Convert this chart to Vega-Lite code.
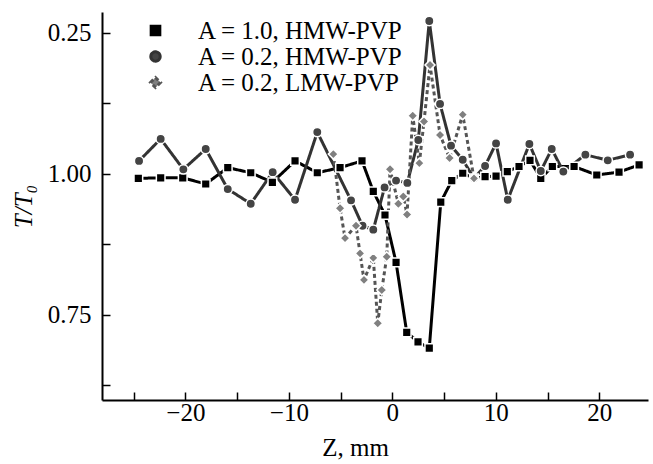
{
  "$schema": "https://vega.github.io/schema/vega-lite/v6.json",
  "width": 546,
  "height": 388,
  "autosize": {"type": "none"},
  "padding": {"left": 102, "top": 12, "right": 5, "bottom": 64},
  "background": "white",
  "config": {"view": {"stroke": null}, "font": "Liberation Serif"},
  "data": {
    "values": [
      {"series": "A = 1.0, HMW-PVP", "z": -24.54, "v": 0.992},
      {"series": "A = 1.0, HMW-PVP", "z": -22.38, "v": 0.993},
      {"series": "A = 1.0, HMW-PVP", "z": -20.25, "v": 0.993},
      {"series": "A = 1.0, HMW-PVP", "z": -18.03, "v": 0.982},
      {"series": "A = 1.0, HMW-PVP", "z": -15.9, "v": 1.011},
      {"series": "A = 1.0, HMW-PVP", "z": -13.68, "v": 1.002},
      {"series": "A = 1.0, HMW-PVP", "z": -11.59, "v": 0.985},
      {"series": "A = 1.0, HMW-PVP", "z": -9.4, "v": 1.023},
      {"series": "A = 1.0, HMW-PVP", "z": -7.25, "v": 1.002},
      {"series": "A = 1.0, HMW-PVP", "z": -5.05, "v": 1.011},
      {"series": "A = 1.0, HMW-PVP", "z": -2.93, "v": 1.023},
      {"series": "A = 1.0, HMW-PVP", "z": -1.84, "v": 0.969},
      {"series": "A = 1.0, HMW-PVP", "z": -0.71, "v": 0.927},
      {"series": "A = 1.0, HMW-PVP", "z": 0.36, "v": 0.843},
      {"series": "A = 1.0, HMW-PVP", "z": 1.39, "v": 0.719},
      {"series": "A = 1.0, HMW-PVP", "z": 2.48, "v": 0.702},
      {"series": "A = 1.0, HMW-PVP", "z": 3.57, "v": 0.691},
      {"series": "A = 1.0, HMW-PVP", "z": 4.68, "v": 0.950},
      {"series": "A = 1.0, HMW-PVP", "z": 5.74, "v": 0.988},
      {"series": "A = 1.0, HMW-PVP", "z": 6.8, "v": 1.001},
      {"series": "A = 1.0, HMW-PVP", "z": 7.89, "v": 0.992},
      {"series": "A = 1.0, HMW-PVP", "z": 8.96, "v": 0.995},
      {"series": "A = 1.0, HMW-PVP", "z": 10.02, "v": 0.996},
      {"series": "A = 1.0, HMW-PVP", "z": 11.11, "v": 1.004},
      {"series": "A = 1.0, HMW-PVP", "z": 12.24, "v": 1.013},
      {"series": "A = 1.0, HMW-PVP", "z": 13.3, "v": 1.024},
      {"series": "A = 1.0, HMW-PVP", "z": 14.34, "v": 0.992},
      {"series": "A = 1.0, HMW-PVP", "z": 15.46, "v": 1.013},
      {"series": "A = 1.0, HMW-PVP", "z": 17.56, "v": 1.013},
      {"series": "A = 1.0, HMW-PVP", "z": 19.75, "v": 0.998},
      {"series": "A = 1.0, HMW-PVP", "z": 21.9, "v": 1.003},
      {"series": "A = 1.0, HMW-PVP", "z": 23.84, "v": 1.016},
      {"series": "A = 0.2, HMW-PVP", "z": -24.47, "v": 1.023},
      {"series": "A = 0.2, HMW-PVP", "z": -22.38, "v": 1.062},
      {"series": "A = 0.2, HMW-PVP", "z": -20.19, "v": 1.008},
      {"series": "A = 0.2, HMW-PVP", "z": -18.03, "v": 1.044},
      {"series": "A = 0.2, HMW-PVP", "z": -15.9, "v": 0.973},
      {"series": "A = 0.2, HMW-PVP", "z": -13.68, "v": 0.947},
      {"series": "A = 0.2, HMW-PVP", "z": -11.56, "v": 1.003},
      {"series": "A = 0.2, HMW-PVP", "z": -9.4, "v": 0.954},
      {"series": "A = 0.2, HMW-PVP", "z": -7.25, "v": 1.074},
      {"series": "A = 0.2, HMW-PVP", "z": -3.99, "v": 0.953},
      {"series": "A = 0.2, HMW-PVP", "z": -2.88, "v": 0.908},
      {"series": "A = 0.2, HMW-PVP", "z": -1.84, "v": 0.901},
      {"series": "A = 0.2, HMW-PVP", "z": -0.75, "v": 0.976},
      {"series": "A = 0.2, HMW-PVP", "z": 0.36, "v": 0.988},
      {"series": "A = 0.2, HMW-PVP", "z": 1.45, "v": 0.984},
      {"series": "A = 0.2, HMW-PVP", "z": 2.51, "v": 1.060},
      {"series": "A = 0.2, HMW-PVP", "z": 3.57, "v": 1.271},
      {"series": "A = 0.2, HMW-PVP", "z": 4.61, "v": 1.124},
      {"series": "A = 0.2, HMW-PVP", "z": 5.67, "v": 1.050},
      {"series": "A = 0.2, HMW-PVP", "z": 6.8, "v": 1.025},
      {"series": "A = 0.2, HMW-PVP", "z": 7.89, "v": 0.992},
      {"series": "A = 0.2, HMW-PVP", "z": 8.96, "v": 1.014},
      {"series": "A = 0.2, HMW-PVP", "z": 10.02, "v": 1.054},
      {"series": "A = 0.2, HMW-PVP", "z": 11.15, "v": 0.954},
      {"series": "A = 0.2, HMW-PVP", "z": 13.24, "v": 1.053},
      {"series": "A = 0.2, HMW-PVP", "z": 14.34, "v": 1.005},
      {"series": "A = 0.2, HMW-PVP", "z": 15.4, "v": 1.044},
      {"series": "A = 0.2, HMW-PVP", "z": 16.52, "v": 1.004},
      {"series": "A = 0.2, HMW-PVP", "z": 18.65, "v": 1.034},
      {"series": "A = 0.2, HMW-PVP", "z": 20.81, "v": 1.024},
      {"series": "A = 0.2, HMW-PVP", "z": 22.97, "v": 1.034},
      {"series": "A = 0.2, LMW-PVP", "z": -5.7, "v": 1.035},
      {"series": "A = 0.2, LMW-PVP", "z": -5.05, "v": 0.939},
      {"series": "A = 0.2, LMW-PVP", "z": -4.57, "v": 0.886},
      {"series": "A = 0.2, LMW-PVP", "z": -3.51, "v": 0.908},
      {"series": "A = 0.2, LMW-PVP", "z": -3.12, "v": 0.859},
      {"series": "A = 0.2, LMW-PVP", "z": -2.74, "v": 0.812},
      {"series": "A = 0.2, LMW-PVP", "z": -1.84, "v": 0.851},
      {"series": "A = 0.2, LMW-PVP", "z": -1.41, "v": 0.735},
      {"series": "A = 0.2, LMW-PVP", "z": -1.02, "v": 0.794},
      {"series": "A = 0.2, LMW-PVP", "z": -0.54, "v": 0.853},
      {"series": "A = 0.2, LMW-PVP", "z": -0.22, "v": 1.008},
      {"series": "A = 0.2, LMW-PVP", "z": 0.58, "v": 0.947},
      {"series": "A = 0.2, LMW-PVP", "z": 1.06, "v": 0.960},
      {"series": "A = 0.2, LMW-PVP", "z": 1.42, "v": 0.928},
      {"series": "A = 0.2, LMW-PVP", "z": 1.97, "v": 1.103},
      {"series": "A = 0.2, LMW-PVP", "z": 2.61, "v": 1.019},
      {"series": "A = 0.2, LMW-PVP", "z": 3.06, "v": 1.093},
      {"series": "A = 0.2, LMW-PVP", "z": 3.64, "v": 1.193},
      {"series": "A = 0.2, LMW-PVP", "z": 4.61, "v": 1.069},
      {"series": "A = 0.2, LMW-PVP", "z": 5.53, "v": 1.028},
      {"series": "A = 0.2, LMW-PVP", "z": 6.8, "v": 1.105},
      {"series": "A = 0.2, LMW-PVP", "z": 7.89, "v": 0.992}
    ]
  },
  "encoding": {
    "x": {
      "field": "z", "type": "quantitative",
      "scale": {"domain": [-28.05, 24.7], "nice": false, "zero": false},
      "axis": {
        "values": [-25, -20, -15, -10, -5, 0, 5, 10, 15, 20],
        "labelExpr": "datum.value % 10 == 0 ? (datum.value < 0 ? '−' + abs(datum.value) : '' + datum.value) : ''",
        "grid": false, "domainColor": "black", "domainWidth": 2,
        "tickColor": "black", "tickWidth": 1.5, "tickSize": -8,
        "labelPadding": 8, "labelFontSize": 25, "labelFont": "Liberation Serif", "labelColor": "black",
        "labelFlush": false, "labelOverlap": false,
        "title": "Z, mm", "titleFont": "Liberation Serif", "titleFontSize": 25, "titleFontWeight": "normal",
        "titleColor": "black", "titlePadding": 10, "titleX": 253, "titleAlign": "center"
      }
    },
    "y": {
      "field": "v", "type": "quantitative",
      "scale": {"domain": [0.599, 1.287], "nice": false, "zero": false},
      "axis": {
        "values": [0.625, 0.75, 0.875, 1, 1.125, 1.25],
        "labelExpr": "datum.value == 1.25 ? '0.25' : datum.value == 1 ? '1.00' : datum.value == 0.75 ? '0.75' : ''",
        "grid": false, "domainColor": "black", "domainWidth": 2,
        "tickColor": "black", "tickWidth": 1.5, "tickSize": -8,
        "labelPadding": 19, "labelFontSize": 25, "labelFont": "Liberation Serif", "labelColor": "black",
        "labelFlush": false, "labelOverlap": false,
        "title": "T/T₀", "titleFont": "Liberation Serif", "titleFontSize": 25, "titleFontWeight": "normal",
        "titleFontStyle": "italic", "titleColor": "#000000", "titlePadding": 11
      }
    }
  },
  "layer": [
    {
      "mark": {"type": "line"},
      "encoding": {
        "color": {
          "field": "series", "type": "nominal",
          "scale": {"domain": ["A = 1.0, HMW-PVP", "A = 0.2, HMW-PVP", "A = 0.2, LMW-PVP"], "range": ["#000000", "#333333", "#555555"]},
          "legend": {
            "orient": "none", "legendX": 41, "legendY": 6, "title": null, "padding": 0, "rowPadding": -4,
            "symbolSize": 310,
            "labelFont": "Liberation Serif", "labelFontSize": 25, "labelColor": "black",
            "labelOffset": 30, "labelLimit": 400,
            "encode": {
              "symbols": {
                "update": {
                  "shape": {"value": {"expr": "datum.value === 'A = 1.0, HMW-PVP' ? 'M-3,-0.17L-0.75,-0.17L-0.75,0.17L-3,0.17ZM0.75,-0.17L3,-0.17L3,0.17L0.75,0.17ZM-0.5,-0.5L0.5,-0.5L0.5,0.5L-0.5,0.5Z' : datum.value === 'A = 0.2, HMW-PVP' ? 'M-3,-0.17L-0.8,-0.17L-0.8,0.17L-3,0.17ZM0.8,-0.17L3,-0.17L3,0.17L0.8,0.17ZM0.55,0A0.55,0.55,0,1,1,-0.55,0A0.55,0.55,0,1,1,0.55,0Z' : 'M-3,-0.11L-2.55,-0.11L-2.55,0.11L-3,0.11ZM-2.2,-0.11L-1.75,-0.11L-1.75,0.11L-2.2,0.11ZM-1.4,-0.11L-0.95,-0.11L-0.95,0.11L-1.4,0.11ZM0.95,-0.11L1.4,-0.11L1.4,0.11L0.95,0.11ZM1.75,-0.11L2.2,-0.11L2.2,0.11L1.75,0.11ZM2.55,-0.11L3,-0.11L3,0.11L2.55,0.11ZM0,-0.35L0.35,0L0,0.35L-0.35,0Z'"}},
                  "fill": {"value": {"expr": "datum.value === 'A = 1.0, HMW-PVP' ? '#000000' : datum.value === 'A = 0.2, HMW-PVP' ? '#3a3a3a' : '#666666'"}},
                  "stroke": {"value": "transparent"},
                  "strokeWidth": {"value": 0},
                  "opacity": {"value": 1},
                  "fillOpacity": {"value": 1},
                  "size": {"value": 310}
                }
              }
            }
          }
        },
        "strokeDash": {
          "field": "series", "type": "nominal",
          "scale": {"domain": ["A = 1.0, HMW-PVP", "A = 0.2, HMW-PVP", "A = 0.2, LMW-PVP"], "range": [[1, 0], [1, 0], [4, 3]]},
          "legend": null
        },
        "strokeWidth": {
          "field": "series", "type": "nominal",
          "scale": {"domain": ["A = 1.0, HMW-PVP", "A = 0.2, HMW-PVP", "A = 0.2, LMW-PVP"], "range": [3, 3, 2]},
          "legend": null
        }
      }
    },
    {
      "mark": {"type": "point", "filled": true, "stroke": "white", "strokeWidth": 1.5, "opacity": 1},
      "encoding": {
        "shape": {
          "field": "series", "type": "nominal",
          "scale": {"domain": ["A = 1.0, HMW-PVP", "A = 0.2, HMW-PVP", "A = 0.2, LMW-PVP"], "range": ["square", "circle", "diamond"]},
          "legend": null
        },
        "fill": {
          "field": "series", "type": "nominal",
          "scale": {"domain": ["A = 1.0, HMW-PVP", "A = 0.2, HMW-PVP", "A = 0.2, LMW-PVP"], "range": ["#000000", "#444444", "#808080"]},
          "legend": null
        },
        "size": {
          "field": "series", "type": "nominal",
          "scale": {"domain": ["A = 1.0, HMW-PVP", "A = 0.2, HMW-PVP", "A = 0.2, LMW-PVP"], "range": [75, 100, 30]},
          "legend": null
        }
      }
    }
  ]
}
